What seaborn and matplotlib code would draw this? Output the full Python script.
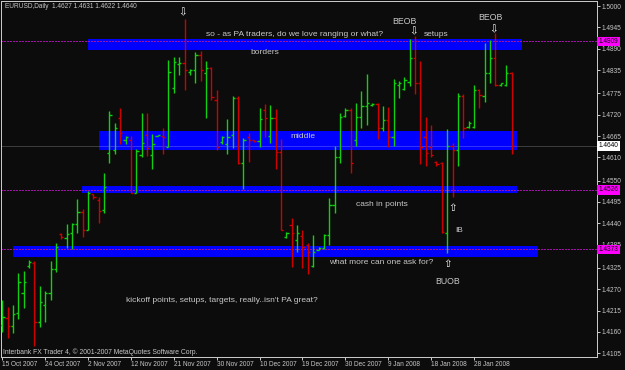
import matplotlib
matplotlib.use("Agg")
import matplotlib.pyplot as plt
from matplotlib.patches import Rectangle
import seaborn as sns
import numpy as np
import pandas as pd

# ---------------- data ----------------
opens = [1.4178, 1.4196, 1.4175, 1.4209, 1.4261, 1.4330, 1.4338, 1.4186, 1.4230, 1.4261,
         1.4322, 1.4412, 1.4402, 1.4415, 1.4438, 1.4469, 1.4423, 1.4516, 1.4500, 1.4474,
         1.4621, 1.4629, 1.4711, 1.4655, 1.4655, 1.4518, 1.4616, 1.4668, 1.4616, 1.4665,
         1.4665, 1.4637, 1.4789, 1.4851, 1.4853, 1.4830, 1.4835, 1.4874, 1.4827, 1.4840,
         1.4758, 1.4650, 1.4645, 1.4668, 1.4763, 1.4595, 1.4662, 1.4655, 1.4652, 1.4732,
         1.4665, 1.4711, 1.4624, 1.4405, 1.4436, 1.4397, 1.4408, 1.4384, 1.4330, 1.4371,
         1.4376, 1.4410, 1.4487, 1.4611, 1.4717, 1.4732, 1.4655, 1.4714, 1.4742, 1.4745,
         1.4747, 1.4686, 1.4706, 1.4662, 1.4796, 1.4786, 1.4804, 1.4866, 1.4802, 1.4662,
         1.4637, 1.4598, 1.4595, 1.4415, 1.4639, 1.4629, 1.4768, 1.4688, 1.4688, 1.4784,
         1.4768, 1.4827, 1.4866, 1.4796, 1.4796, 1.4827]
highs = [1.4242, 1.4224, 1.4230, 1.4312, 1.4317, 1.4345, 1.4343, 1.4279, 1.4266, 1.4343,
         1.4389, 1.4415, 1.4438, 1.4441, 1.4503, 1.4477, 1.4523, 1.4516, 1.4508, 1.4570,
         1.4730, 1.4699, 1.4737, 1.4665, 1.4665, 1.4632, 1.4724, 1.4724, 1.4670, 1.4668,
         1.4686, 1.4861, 1.4869, 1.4869, 1.4967, 1.4838, 1.4882, 1.4884, 1.4858, 1.4843,
         1.4784, 1.4665, 1.4709, 1.4768, 1.4768, 1.4660, 1.4673, 1.4655, 1.4737, 1.4747,
         1.4745, 1.4735, 1.4657, 1.4418, 1.4454, 1.4436, 1.4423, 1.4389, 1.4410, 1.4379,
         1.4412, 1.4505, 1.4639, 1.4724, 1.4737, 1.4737, 1.4750, 1.4781, 1.4824, 1.4750,
         1.4750, 1.4742, 1.4740, 1.4812, 1.4807, 1.4817, 1.4915, 1.4923, 1.4858, 1.4714,
         1.4693, 1.4601, 1.4598, 1.4683, 1.4647, 1.4776, 1.4773, 1.4704, 1.4796, 1.4786,
         1.4905, 1.4912, 1.4931, 1.4802, 1.4848, 1.4830]
lows = [1.4160, 1.4145, 1.4157, 1.4193, 1.4222, 1.4325, 1.4124, 1.4173, 1.4186, 1.4242,
        1.4315, 1.4400, 1.4376, 1.4374, 1.4415, 1.4405, 1.4423, 1.4503, 1.4441, 1.4467,
        1.4595, 1.4619, 1.4645, 1.4645, 1.4518, 1.4518, 1.4611, 1.4614, 1.4580, 1.4665,
        1.4619, 1.4637, 1.4776, 1.4822, 1.4784, 1.4822, 1.4802, 1.4807, 1.4711, 1.4758,
        1.4629, 1.4645, 1.4619, 1.4634, 1.4593, 1.4528, 1.4598, 1.4650, 1.4637, 1.4662,
        1.4647, 1.4580, 1.4423, 1.4402, 1.4328, 1.4366, 1.4325, 1.4310, 1.4328, 1.4371,
        1.4374, 1.4384, 1.4467, 1.4595, 1.4714, 1.4570, 1.4639, 1.4686, 1.4693, 1.4742,
        1.4657, 1.4678, 1.4637, 1.4639, 1.4763, 1.4784, 1.4794, 1.4773, 1.4593, 1.4588,
        1.4611, 1.4588, 1.4415, 1.4363, 1.4508, 1.4588, 1.4660, 1.4686, 1.4686, 1.4737,
        1.4753, 1.4802, 1.4794, 1.4794, 1.4794, 1.4619]
closes = [1.4199, 1.4175, 1.4206, 1.4289, 1.4289, 1.4340, 1.4186, 1.4237, 1.4261, 1.4322,
          1.4379, 1.4405, 1.4412, 1.4438, 1.4469, 1.4423, 1.4518, 1.4508, 1.4472, 1.4534,
          1.4719, 1.4686, 1.4673, 1.4662, 1.4518, 1.4627, 1.4647, 1.4634, 1.4645, 1.4668,
          1.4662, 1.4830, 1.4856, 1.4853, 1.4835, 1.4835, 1.4874, 1.4835, 1.4840, 1.4766,
          1.4637, 1.4662, 1.4662, 1.4763, 1.4595, 1.4655, 1.4655, 1.4652, 1.4709, 1.4711,
          1.4711, 1.4624, 1.4423, 1.4415, 1.4415, 1.4415, 1.4379, 1.4366, 1.4366, 1.4376,
          1.4410, 1.4487, 1.4611, 1.4714, 1.4732, 1.4595, 1.4714, 1.4742, 1.4750, 1.4747,
          1.4686, 1.4706, 1.4662, 1.4802, 1.4802, 1.4809, 1.4866, 1.4802, 1.4637, 1.4621,
          1.4616, 1.4593, 1.4418, 1.4639, 1.4629, 1.4768, 1.4686, 1.4699, 1.4784, 1.4771,
          1.4827, 1.4866, 1.4796, 1.4802, 1.4827, 1.4640]

date_labels = ["15 Oct 2007", "24 Oct 2007", "2 Nov 2007", "12 Nov 2007", "21 Nov 2007",
               "30 Nov 2007", "10 Dec 2007", "19 Dec 2007", "30 Dec 2007", "9 Jan 2008",
               "18 Jan 2008", "28 Jan 2008"]
date_bar_index = [0, 8, 16, 24, 32, 40, 48, 56, 64, 72, 80, 88]

price_ticks = [1.5000, 1.4945, 1.4890, 1.4835, 1.4775, 1.4720, 1.4665, 1.4610, 1.4550,
               1.4495, 1.4440, 1.4385, 1.4325, 1.4270, 1.4215, 1.4160, 1.4105]
price_tick_labels = ["1.5000", "1.4945", "1.4890", "1.4835", "1.4775", "1.4720", "1.4665",
                     "1.4610", "1.4550", "1.4495", "1.4440", "1.4385", "1.4325", "1.4270",
                     "1.4215", "1.4160", "1.4105"]

level_prices = [1.4909, 1.4526, 1.4373]
level_labels = ["1.4909", "1.4526", "1.4373"]
bid_price = 1.4640
bid_label = "1.4640"

# zones: (first bar, last bar, low price, high price)
zone_bar_start = [16.0, 18.0, 14.9, 2.0]
zone_bar_end = [97.0, 96.0, 96.0, 100.0]
zone_low = [1.4887, 1.4630, 1.4517, 1.4352]
zone_high = [1.4915, 1.4678, 1.4536, 1.4382]

header = "EURUSD,Daily  1.4627 1.4631 1.4622 1.4640"

df = pd.DataFrame({"open": opens, "high": highs, "low": lows, "close": closes})
df["idx"] = np.arange(len(df))
df["up"] = df["close"] >= df["open"]

# ---------------- style ----------------
W, H = 625, 370
BG = "#0c0c0c"
FG = "#c8c8c8"
sns.set_theme(style="dark", rc={"axes.facecolor": BG, "figure.facecolor": BG,
                                "savefig.facecolor": BG, "axes.grid": False})
plt.rcParams["font.family"] = ["Liberation Sans", "DejaVu Sans"]

fig = plt.figure(figsize=(W / 100, H / 100), dpi=100, facecolor=BG)
ax = fig.add_axes([1 / W, 13 / H, 596 / W, 356 / H])
ax.set_facecolor(BG)

ax.set_xlim(-0.24, 110.95)
ax.set_ylim(1.40955, 1.50129)

LW = 0.72  # one pixel
BLW = 1.0

# zones
for x0, x1, lo, hi in zip(zone_bar_start, zone_bar_end, zone_low, zone_high):
    ax.add_patch(Rectangle((x0, lo), x1 - x0, hi - lo, facecolor="#0000ff",
                           edgecolor="none", zorder=1, antialiased=False))

# horizontal level lines
for p in level_prices:
    ax.axhline(p, color="#a010a8", lw=LW, linestyle=(0, (2, 2)), zorder=2,
               antialiased=False)
ax.axhline(bid_price, color="white", alpha=0.2, lw=LW, linestyle=(0, (2, 1)), zorder=2,
           antialiased=False)

# OHLC bars
UP, DN = "#10d010", "#d00000"
cols = np.where(df["up"], UP, DN)
x = df["idx"].to_numpy()
ax.vlines(x, df["low"], df["high"], colors=cols, lw=BLW, zorder=3)
ax.hlines(df["open"], x - 0.42, x, colors=cols, lw=BLW, zorder=3)
ax.hlines(df["close"], x, x + 0.42, colors=cols, lw=BLW, zorder=3)

# axes, spines
for s in ax.spines.values():
    s.set_visible(True)
    s.set_color(FG)
    s.set_linewidth(LW)

ax.yaxis.tick_right()
ax.set_yticks(price_ticks)
ax.set_yticklabels(price_tick_labels)
ax.tick_params(axis="y", direction="out", length=2.2, width=LW, colors=FG,
               labelsize=4.7, pad=1.2, right=True, left=False)
ax.set_xticks(date_bar_index)
ax.set_xticklabels(date_labels, ha="left")
ax.tick_params(axis="x", direction="out", length=2.2, width=LW, colors=FG,
               labelsize=4.7, pad=0.6, bottom=True)
ax.set_xlabel("")
ax.set_ylabel("")

# price boxes on the right
for p, lab in zip(level_prices, level_labels):
    ax.text(1.003, p, lab, transform=ax.get_yaxis_transform(), ha="left", va="center",
            fontsize=4.7, color="black", clip_on=False, zorder=10,
            bbox=dict(boxstyle="square,pad=0.2", fc="#ff00ff", ec="none"))
ax.text(1.003, bid_price, bid_label, transform=ax.get_yaxis_transform(), ha="left",
        va="center", fontsize=4.7, color="black", clip_on=False, zorder=10,
        bbox=dict(boxstyle="square,pad=0.2", fc="white", ec="none"))


def ftext(px, py, s, size=6.0, color=FG, ha="left"):
    fig.text(px / W, 1 - py / H, s, fontsize=size, color=color, ha=ha, va="center")


ftext(5, 7, header, size=4.7)
ftext(206, 34, "so - as PA traders, do we love ranging or what?")
ftext(250, 53, "borders")
ftext(392, 21, "BEOB", size=6.3)
ftext(478, 17, "BEOB", size=6.3)
ftext(424, 35, "setups")
ftext(290, 136, "middle")
ftext(356, 205, "cash in points")
ftext(455, 230, "IB")
ftext(329, 263, "what more can one ask for?")
ftext(435, 281, "BUOB", size=6.3)
ftext(126, 301, "kickoff points, setups, targets, really..isn't PA great?")
ftext(3, 352, "Interbank FX Trader 4, \u00a9 2001-2007 MetaQuotes Software Corp.", size=4.9)

for (ax_, ay_) in [(183, 12), (414, 31), (494, 29)]:
    ftext(ax_, ay_, "\u21e9", size=7.5, color="white", ha="center")
for (ax_, ay_) in [(453, 208), (448, 264)]:
    ftext(ax_, ay_, "\u21e7", size=7.5, color="white", ha="center")

fig.savefig("out.png", dpi=100, facecolor=BG)
